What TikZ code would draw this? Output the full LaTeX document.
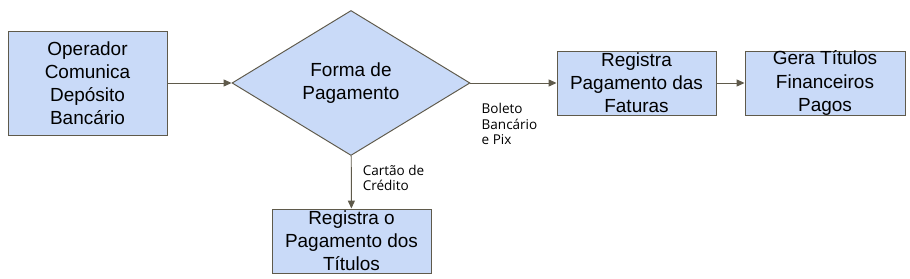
\documentclass[tikz,border=0pt]{standalone}
\usepackage{fontspec}
\setmainfont{Liberation Sans}
\newfontfamily\rotulofont{Open Sans}
\usetikzlibrary{shapes.geometric,arrows.meta}

\definecolor{azulcaixa}{HTML}{C9DAF8}
\definecolor{bordacaixa}{RGB}{95,90,75}

\begin{document}
\begin{tikzpicture}[
    caixa/.style={draw=bordacaixa, fill=azulcaixa, line width=0.55pt,
      minimum width=3.18cm, minimum height=1.28cm, inner sep=0pt,
      align=center, font=\fontsize{10.8}{13.1}\selectfont},
    decisao/.style={draw=bordacaixa, fill=azulcaixa, line width=0.55pt,
      diamond, aspect=1.64, minimum width=4.76cm, minimum height=2.9cm,
      inner sep=0pt, align=center, font=\fontsize{10.8}{13.1}\selectfont},
    seta/.style={draw=bordacaixa, line width=0.55pt,
      -{Triangle[length=4.5pt,width=4pt]}},
    rotulo/.style={align=left, inner sep=0pt,
      font=\rotulofont\fontsize{7.7}{8.8}\selectfont}
  ]
    \useasboundingbox (0,0) rectangle (18.2,5.58);

    % caixas
    \node[caixa, minimum height=2.08cm] (operador) at (1.75,3.92)
      {Operador\\Comunica\\Depósito\\Bancário};
    \node[decisao] (forma) at (7.02,3.92) {Forma de\\Pagamento};
    \node[caixa] (faturas) at (12.73,3.92) {Registra\\Pagamento das\\Faturas};
    \node[caixa, minimum width=3.2cm] (gera) at (16.5,3.92)
      {Gera Títulos\\Financeiros\\Pagos};
    \node[caixa] (titulos) at (7.03,0.76) {Registra o\\Pagamento dos\\Títulos};

    % setas
    \draw[seta] (forma) -- node[rotulo, below, yshift=-0.4cm, xshift=-0.08cm]
      {Boleto\\Bancário\\e Pix} (faturas);
    \draw[seta] (operador) -- (forma);
    \draw[seta] (faturas) -- (gera);
    \draw[seta] (forma) -- node[rotulo, right, xshift=0.22cm, yshift=0.08cm]
      {Cartão de\\Crédito} (titulos);
  \end{tikzpicture}
\end{document}
